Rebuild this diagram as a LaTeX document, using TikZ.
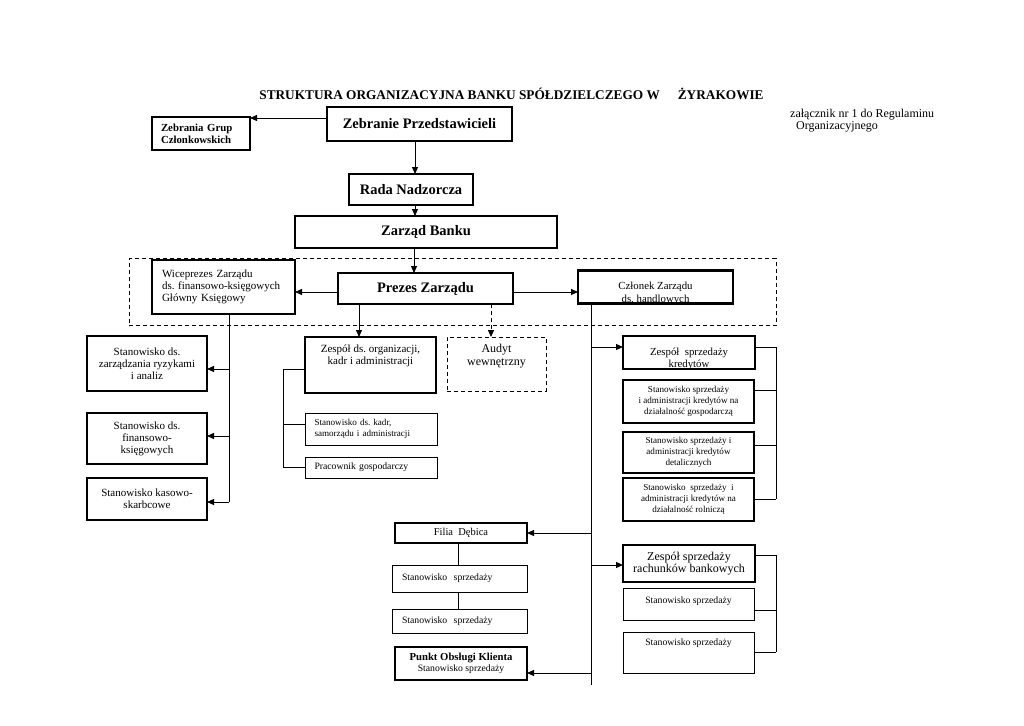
\documentclass[tikz,border=0pt]{standalone}
\usepackage{fontspec}
\setmainfont{Liberation Serif}
\usetikzlibrary{arrows.meta}
\frenchspacing
\tikzset{
  bx/.style={draw, rectangle, inner sep=0pt, outer sep=0pt, align=center, line width=1.3pt},
  thk/.style={bx, line width=2.6pt},
  mdm/.style={bx, line width=1.8pt},
  thn/.style={bx, line width=1pt},
  dsh/.style={bx, line width=1pt, dash pattern=on 4pt off 3pt},
  sz/.style 2 args={minimum width=#1pt, minimum height=#2pt},
  lft/.style={align=left, text width=#1pt},
  lab/.style={anchor=north, inner sep=0pt, align=center},
  ln/.style={line width=1pt},
  arr/.style={ln, -{Triangle[length=7pt,width=6pt]}},
  ftit/.style={font=\fontsize{13.3}{16}\selectfont\bfseries},
  fbig/.style={font=\fontsize{14.5}{17}\selectfont\bfseries},
  fb11/.style={font=\fontsize{10.8}{12}\selectfont\bfseries},
  f12/.style={font=\fontsize{12}{12.5}\selectfont},
  f11/.style={font=\fontsize{11}{12}\selectfont},
  f10/.style={font=\fontsize{9.7}{11}\selectfont},
  f9/.style={font=\fontsize{9.1}{10.8}\selectfont},
}
\begin{document}
\begin{tikzpicture}[x=1pt,y=-1pt]
\path[use as bounding box] (0,0) rectangle (1024,725);
% naglowek
\node[ftit, anchor=base] (title) at (511.5,99) {STRUKTURA ORGANIZACYJNA BANKU SPÓŁDZIELCZEGO W\hspace{18pt}ŻYRAKOWIE};
\node[font=\fontsize{12}{12}\selectfont, anchor=north west, align=left, inner sep=0pt] (annex) at (790,109) {załącznik nr 1 do Regulaminu\\\hspace*{6pt}Organizacyjnego};
% organy banku
\node[bx, sz={185}{34}, fbig] (zp) at (419.5,124) {Zebranie Przedstawicieli};
\node[bx, sz={98}{33}, fb11, lft=80] (zgc) at (201,133.5) {Zebrania Grup\\Członkowskich};
\node[bx, sz={124}{31}, fbig] (rn) at (411,189.5) {Rada Nadzorcza};
\node[bx, sz={262}{32}, fbig] (zb) at (426,232) {Zarząd Banku};
% zarzad
\node[dsh, sz={647}{67}] (grp) at (452.5,292) {};
\node[thk, sz={143}{54}, f11, lft=123] (wice) at (223.5,287) {Wiceprezes Zarządu\\ds. finansowo-księgowych\\Główny Księgowy};
\node[thk, sz={175}{31}, fbig] (prez) at (425.5,288.5) {Prezes Zarządu};
\node[thk, sz={155}{33}, path picture={\node[font=\fontsize{10.8}{13}\selectfont, align=center] (czlt) at ([yshift=-6.5pt]path picture bounding box.center) {Członek Zarządu\\ds. handlowych};}] (czl) at (655.5,287) {};
\node[thk, sz={131}{56}, label={[name=zorgt, lab, f11, yshift=-8pt]north:{Zespół ds. organizacji,\\kadr i administracji}}] (zorg) at (370.5,365) {};
\node[dsh, sz={99}{54}, label={[name=audytt, lab, f12, yshift=-7pt]north:{Audyt\\wewnętrzny}}] (audyt) at (496.5,364) {};
% pion finansowy
\node[thk, sz={120}{55}, f11] (szr) at (147,363.5) {Stanowisko ds.\\zarządzania ryzykami\\i analiz};
\node[thk, sz={120}{51}, f11] (sfk) at (147,438.5) {Stanowisko ds.\\finansowo-\\księgowych};
\node[thk, sz={120}{42}, f11] (skas) at (147,499) {Stanowisko kasowo-\\skarbcowe};
\node[thn, sz={132}{32}, f9, lft=113] (skadr) at (371,429) {Stanowisko ds. kadr,\\samorządu i administracji};
\node[thn, sz={132}{21}, f10, lft=113] (pgosp) at (371,467.5) {Pracownik gospodarczy};
% pion handlowy
\node[thk, sz={132}{33}, path picture={\node[font=\fontsize{10.8}{12}\selectfont, align=center] (zkredt) at ([yshift=-6pt]path picture bounding box.center) {Zespół\ \ sprzedaży\\kredytów};}] (zkred) at (689,352.5) {};
\node[mdm, sz={131}{43}, f9] (sgosp) at (688.5,401.5) {Stanowisko sprzedaży\\i administracji kredytów na\\działalność gospodarczą};
\node[mdm, sz={131}{41}, f9] (sdet) at (688.5,452.5) {Stanowisko sprzedaży i\\administracji kredytów\\detalicznych};
\node[mdm, sz={131}{43}, f9] (srol) at (688.5,499.5) {Stanowisko\ \ sprzedaży\ \ i\\administracji kredytów na\\działalność rolniczą};
\node[thk, sz={132}{37}, f12] (zrach) at (689,563.5) {Zespół sprzedaży\\rachunków bankowych};
\node[thn, sz={131}{32}, label={[name=ss1t, lab, f10, yshift=-9pt]north:Stanowisko sprzedaży}] (ss1) at (688.5,604) {};
\node[thn, sz={131}{41}, label={[name=ss2t, lab, f10, yshift=-7pt]north:Stanowisko sprzedaży}] (ss2) at (688.5,652.5) {};
% placowki
\node[thk, sz={132}{20}, font=\fontsize{10.5}{12}\selectfont] (filia) at (461,533) {Filia\ \ Dębica};
\node[thn, sz={135}{27}, f10, lft=115] (fs1) at (459.5,578.5) {Stanowisko\ \ sprzedaży};
\node[thn, sz={135}{24}, f10, lft=115] (fs2) at (459.5,621) {Stanowisko\ \ sprzedaży};
\node[thk, sz={132}{33}, f10] (pok) at (461,663.5) {{\fontsize{10.7}{11}\selectfont\bfseries Punkt Obsługi Klienta}\\Stanowisko sprzedaży};
% punkty pomocnicze
\coordinate (wv) at (229,502);
\coordinate (ob) at (283,467);
\coordinate (cv) at (591,685);
\coordinate (kt) at (776,347);
\coordinate (kb) at (776,499);
\coordinate (rt) at (776,555);
\coordinate (rb) at (776,652);
% polaczenia
\draw[arr] (zp.west |- 0,118) -- (zgc.east |- 0,118);
\draw[arr] (zp.south -| 415,0) -- (rn.north -| 415,0);
\draw[arr] (rn.south -| 415,0) -- (zb.north -| 415,0);
\draw[arr] (zb.south -| 414,0) -- (prez.north -| 414,0);
\draw[arr] (prez.west |- 0,292) -- (wice.east |- 0,292);
\draw[arr] (prez.east |- 0,292) -- (czl.west |- 0,292);
\draw[arr] (prez.south -| 359,0) -- (zorg.north -| 359,0);
\draw[arr, dash pattern=on 4pt off 3pt] (prez.south -| 491,0) -- (audyt.north -| 491,0);
\draw[ln] (wice.south -| wv) -- (wv);
\foreach \n/\yy in {szr/369,sfk/436,skas/502}{\draw[arr] (wv |- 0,\yy) -- (\n.east |- 0,\yy);}
\draw[ln] (zorg.west |- 0,369) -- (ob |- 0,369) -- (ob) -- (pgosp.west |- ob);
\draw[ln] (ob |- 0,424) -- (skadr.west |- 0,424);
\draw[ln] (czl.south -| cv) -- (cv);
\foreach \n/\yy in {zkred/347,zrach/565}{\draw[arr] (cv |- 0,\yy) -- (\n.west |- 0,\yy);}
\foreach \n/\yy in {filia/533,pok/673}{\draw[arr] (cv |- 0,\yy) -- (\n.east |- 0,\yy);}
\draw[ln] (zkred.east |- kt) -- (kt) -- (kb);
\foreach \n/\yy in {sgosp/390,sdet/445,srol/499}{\draw[ln] (\n.east |- 0,\yy) -- (kb |- 0,\yy);}
\draw[ln] (zrach.east |- rt) -- (rt) -- (rb);
\foreach \n/\yy in {ss1/610,ss2/652}{\draw[ln] (\n.east |- 0,\yy) -- (rb |- 0,\yy);}
\draw[ln] (filia.south -| 458,0) -- (fs1.north -| 458,0);
\draw[ln] (fs1.south -| 458,0) -- (fs2.north -| 458,0);
\end{tikzpicture}
\end{document}
